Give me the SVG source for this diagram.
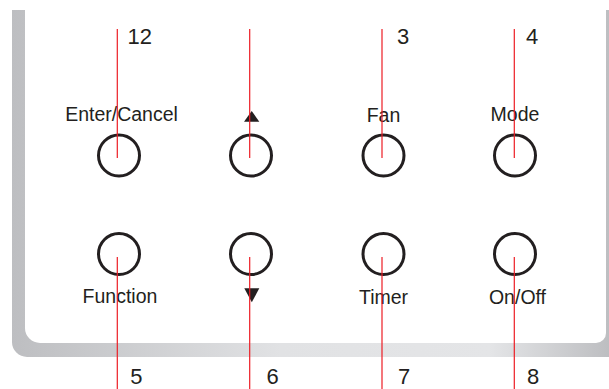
<svg xmlns="http://www.w3.org/2000/svg" width="609" height="389" viewBox="0 0 609 389">
  <defs>
    <linearGradient id="frameGrad" x1="12" y1="0" x2="609" y2="0" gradientUnits="userSpaceOnUse">
      <stop offset="0" stop-color="#bdbec1"/>
      <stop offset="0.45" stop-color="#e1e2e4"/>
      <stop offset="0.8" stop-color="#e4e5e7"/>
      <stop offset="1" stop-color="#bdbec1"/>
    </linearGradient>
    <style>
      .btn { fill: none; stroke: #231f20; stroke-width: 3; }
      .lbl { font-family: "Liberation Sans", Arial, sans-serif; font-size: 19.5px; fill: #231f20; text-anchor: middle; }
      .num { font-family: "Liberation Sans", Arial, sans-serif; font-size: 22px; fill: #231f20; text-anchor: middle; }
      .lead { stroke: #ed1c24; stroke-width: 1.2; fill: none; }
      .tri { fill: #231f20; }
    </style>
  </defs>
  <rect x="0" y="0" width="609" height="389" fill="#ffffff"/>
  <g id="frame">
    <path d="M12,10 H609 V357 H27 A15,15 0 0 1 12,342 Z" fill="url(#frameGrad)"/>
    <path d="M25,10 H606 V333 A10,10 0 0 1 596,343 H40 A15,15 0 0 1 25,328 Z" fill="#ffffff"/>
  </g>
  <g id="btn-enter">
    <circle class="btn" cx="119" cy="155.5" r="20.5"/>
    <text class="lbl" x="121.5" y="120.7">Enter/Cancel</text>
  </g>
  <g id="btn-up">
    <circle class="btn" cx="251" cy="155.5" r="20.5"/>
    <polygon class="tri" points="251.7,111 244,121.7 259.3,121.7"/>
  </g>
  <g id="btn-fan">
    <circle class="btn" cx="383.5" cy="155.5" r="20.5"/>
    <text class="lbl" x="383.5" y="122">Fan</text>
  </g>
  <g id="btn-mode">
    <circle class="btn" cx="515" cy="155.5" r="20.5"/>
    <text class="lbl" x="515" y="120.7">Mode</text>
  </g>
  <g id="btn-function">
    <circle class="btn" cx="119" cy="254" r="20.5"/>
    <text class="lbl" x="120" y="302.7">Function</text>
  </g>
  <g id="btn-down">
    <circle class="btn" cx="251" cy="254" r="20.5"/>
    <polygon class="tri" points="244.3,288.3 259.3,288.3 251.8,302.3"/>
  </g>
  <g id="btn-timer">
    <circle class="btn" cx="383.5" cy="254" r="20.5"/>
    <text class="lbl" x="383.5" y="304">Timer</text>
  </g>
  <g id="btn-onoff">
    <circle class="btn" cx="515" cy="254" r="20.5"/>
    <text class="lbl" x="517.5" y="304">On/Off</text>
  </g>
  <g id="connectors">
    <line class="lead" x1="117.3" y1="29" x2="117.3" y2="158"/>
    <line class="lead" x1="249.7" y1="29" x2="249.7" y2="158"/>
    <line class="lead" x1="382" y1="29" x2="382" y2="158"/>
    <line class="lead" x1="514.3" y1="29" x2="514.3" y2="158"/>
    <line class="lead" x1="117.3" y1="257" x2="117.3" y2="389"/>
    <line class="lead" x1="249.7" y1="257" x2="249.7" y2="389"/>
    <line class="lead" x1="382" y1="257" x2="382" y2="389"/>
    <line class="lead" x1="514.3" y1="257" x2="514.3" y2="389"/>
  </g>
  <g id="numbers">
    <text class="num" x="139.8" y="44.3">12</text>
    <text class="num" x="403" y="44.3">3</text>
    <text class="num" x="532" y="44.3">4</text>
    <text class="num" x="136.3" y="384">5</text>
    <text class="num" x="272.5" y="384">6</text>
    <text class="num" x="404.2" y="384">7</text>
    <text class="num" x="533" y="384">8</text>
  </g>
</svg>
